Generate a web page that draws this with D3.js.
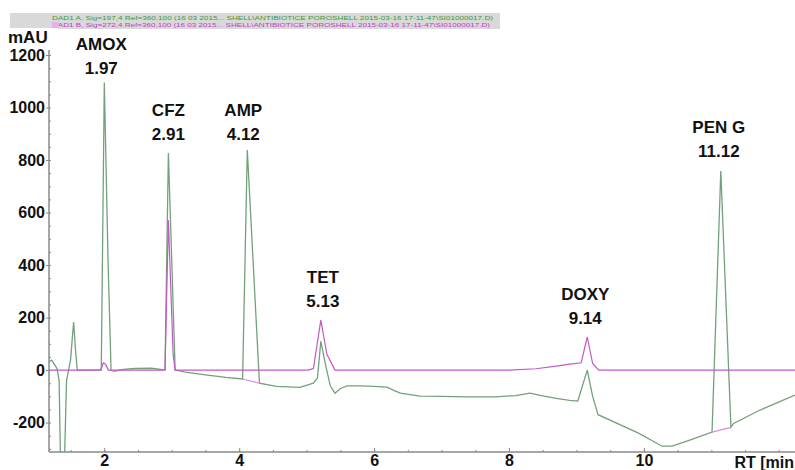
<!DOCTYPE html>
<html>
<head>
<meta charset="utf-8">
<script src="https://cdn.jsdelivr.net/npm/d3@7"></script>
<style>
  body { margin: 0; background: #fff; }
  svg { display: block; font-family: "Liberation Sans", Arial, sans-serif; }
</style>
</head>
<body>
<script>
const width = 795
const height = 470

// Signal A (DAD1 A, 197 nm) as [RT min, mAU]
const sigA = [
  [1.18, 32], [1.22, 38], [1.26, 22], [1.30, 5], [1.33, -40], [1.35, -340], [1.41, -340],
  [1.44, -40], [1.47, 0], [1.50, 40], [1.545, 183], [1.575, 70], [1.60, 0], [1.93, 0],
  [1.955, 0], [2.00, 1095], [2.055, 419], [2.10, 0], [2.15, -5], [2.25, 2], [2.45, 6],
  [2.70, 7], [2.86, 2], [2.90, 2], [2.95, 827], [3.05, 0], [3.20, -8], [3.50, -18],
  [3.80, -28], [4.05, -34], [4.12, 838], [4.30, -50], [4.55, -62], [4.90, -66], [5.10, -50],
  [5.16, -30], [5.21, 110], [5.28, 20], [5.35, -60], [5.42, -88], [5.50, -70], [5.60, -60],
  [5.80, -60], [6.00, -62], [6.19, -65], [6.30, -78], [6.39, -88], [6.68, -99], [7.00, -100],
  [7.40, -102], [7.80, -102], [8.10, -97], [8.31, -88], [8.50, -98], [8.70, -108], [8.90, -115],
  [9.02, -118], [9.16, 0], [9.24, -100], [9.32, -170], [9.92, -240], [10.27, -290], [10.42, -290],
  [10.70, -265], [11.01, -236], [11.14, 758], [11.29, -218], [11.33, -203], [11.70, -155], [12.24, -95]
]

// Signal B (DAD1 B, 272 nm)
const sigB = [
  [1.18, 0], [1.93, 0], [1.955, 5], [1.985, 27], [2.02, 22], [2.06, 0], [2.90, 0],
  [2.95, 571], [3.02, 60], [3.05, 0], [5.02, 0], [5.10, 6], [5.21, 190], [5.30, 60],
  [5.42, 0], [8.00, 0], [8.40, 5], [8.70, 15], [8.90, 23], [9.07, 28], [9.16, 126],
  [9.24, 25], [9.33, 0], [12.24, 0]
]

// integration baselines drawn under some peaks
const baselines = [
  [[4.05, -34], [4.30, -50]],
  [[11.01, -236], [11.29, -218]]
]

const peakNames = ['AMOX', 'CFZ', 'AMP', 'TET', 'DOXY', 'PEN G']
const peakRT = ['1.97', '2.91', '4.12', '5.13', '9.14', '11.12']
// where each label sits, in RT / mAU
const labelAt = [[1.955, 1240], [2.95, 992], [4.06, 992], [5.24, 356], [9.13, 290], [11.11, 926]]

const xTicks = [2, 4, 6, 8, 10]
const yTicks = [-200, 0, 200, 400, 600, 800, 1000, 1200]

const headerA = 'DAD1 A, Sig=197,4 Ref=360,100 (16 03 2015... SHELL\\ANTIBIOTICE POROSHELL 2015-03-16 17-11-47\\SI01000017.D)'
const headerB = 'DAD1 B, Sig=272,4 Ref=360,100 (16 03 2015... SHELL\\ANTIBIOTICE POROSHELL 2015-03-16 17-11-47\\SI01000017.D)'

const greenCol = '#73a17b'
const magentaCol = '#c25ac2'
const axisCol = '#8a8a8a'

const x = d3.scaleLinear().domain([1.18, 12.24]).range([49, 795])
const y = d3.scaleLinear().domain([-312, 1200]).range([452, 55])

const svg = d3.select('body').append('svg')
  .attr('width', width)
  .attr('height', height)

// header band with the two signal descriptions
svg.append('rect').attr('x', 10).attr('y', 13).attr('width', 490).attr('height', 16).attr('fill', '#d9d9d9')
svg.append('text').attr('x', 52).attr('y', 19.5).attr('font-size', 6)
  .attr('textLength', 441).attr('lengthAdjust', 'spacingAndGlyphs')
  .attr('fill', '#3d9a3d').text(headerA)
svg.append('text').attr('x', 52).attr('y', 27).attr('font-size', 6)
  .attr('textLength', 438).attr('lengthAdjust', 'spacingAndGlyphs')
  .attr('fill', '#c040c0').text(headerB)
svg.append('rect').attr('x', 0).attr('y', 28).attr('width', 58).attr('height', 20).attr('fill', '#fff')
svg.append('rect').attr('x', 52).attr('y', 22).attr('width', 7).attr('height', 6).attr('fill', '#e8b0e8')

svg.append('defs').append('clipPath').attr('id', 'plot')
  .append('rect').attr('x', 49).attr('y', 50).attr('width', 746).attr('height', 402)

// axes
const yAxis = d3.axisLeft(y).tickValues(yTicks).tickSize(3).tickPadding(1).tickFormat(d => String(d))
const yMinor = d3.axisLeft(y).tickValues(d3.range(-300, 1201, 50)).tickSize(-2).tickFormat('')
const xAxis = d3.axisBottom(x).tickValues(xTicks).tickSize(-4).tickPadding(3).tickFormat(d => String(d))
const xMinor = d3.axisBottom(x).tickValues(d3.range(1.5, 12.1, 0.5)).tickSize(-2).tickFormat('')

function styleAxis(g) {
  g.select('.domain').remove()
  g.selectAll('line').attr('stroke', axisCol)
  g.selectAll('text').attr('font-family', '"Liberation Sans", Arial, sans-serif')
    .attr('font-size', 16).attr('font-weight', 'bold').attr('fill', '#111')
}

svg.append('g').attr('transform', 'translate(49,0)').call(yMinor).call(styleAxis)
svg.append('g').attr('transform', 'translate(49,0)').call(yAxis).call(styleAxis)
svg.append('g').attr('transform', 'translate(0,452)').call(xMinor).call(styleAxis)
svg.append('g').attr('transform', 'translate(0,452)').call(xAxis).call(styleAxis)

svg.append('line').attr('x1', 49).attr('x2', 49).attr('y1', 50).attr('y2', 452)
  .attr('stroke', axisCol).attr('stroke-width', 1.5)
svg.append('line').attr('x1', 49).attr('x2', 795).attr('y1', 452).attr('y2', 452)
  .attr('stroke', axisCol).attr('stroke-width', 1.5)

svg.append('text').attr('x', 8).attr('y', 43).attr('font-size', 17).attr('font-weight', 'bold')
  .attr('fill', '#111').text('mAU')
svg.append('text').attr('x', 794).attr('y', 468).attr('text-anchor', 'end')
  .attr('font-size', 16).attr('font-weight', 'bold')
  .attr('fill', '#111').text('RT [min')

// traces
const line = d3.line().x(d => x(d[0])).y(d => y(d[1]))
const plot = svg.append('g').attr('clip-path', 'url(#plot)')

plot.append('path').datum(sigA).attr('d', line)
  .attr('fill', 'none').attr('stroke', greenCol).attr('stroke-width', 1.3)
plot.selectAll('path.base').data(baselines).enter().append('path').classed('base', true)
  .attr('d', line).attr('fill', 'none').attr('stroke', '#e08ae0').attr('stroke-width', 1.2)
plot.append('path').datum(sigB).attr('d', line)
  .attr('fill', 'none').attr('stroke', magentaCol).attr('stroke-width', 1.2)

// peak labels
const labels = svg.append('g').selectAll('g.peak')
  .data(peakNames)
  .enter().append('g').classed('peak', true)
  .attr('transform', (d, i) => `translate(${x(labelAt[i][0])},${y(labelAt[i][1])})`)

labels.append('text').attr('text-anchor', 'middle').attr('dy', '0.35em')
  .attr('font-size', 17).attr('font-weight', 'bold').attr('fill', '#111')
  .text(d => d)
labels.append('text').attr('text-anchor', 'middle').attr('y', 24).attr('dy', '0.35em')
  .attr('font-size', 17).attr('font-weight', 'bold').attr('fill', '#111')
  .text((d, i) => peakRT[i])
</script>
</body>
</html>
